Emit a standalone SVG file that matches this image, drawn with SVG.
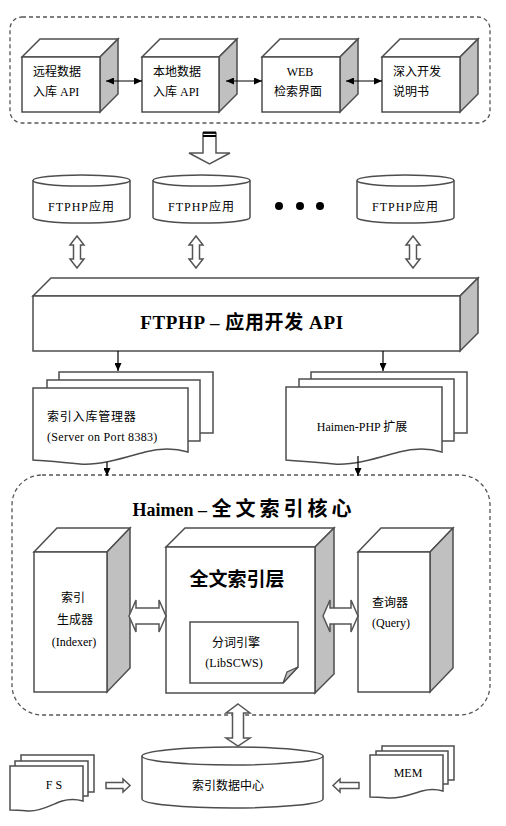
<svg xmlns="http://www.w3.org/2000/svg" width="506" height="826" viewBox="0 0 506 826">
<defs>
<style>
.s{stroke:#4d4d4d;stroke-width:1.5;fill:#fff;stroke-linejoin:miter}
.side{stroke:#4d4d4d;stroke-width:1.5;fill:#c0c0c0}
.dash{stroke:#555;stroke-width:1.3;fill:none;stroke-dasharray:4,3}
.t{font-family:"Liberation Serif","Noto Sans CJK SC",serif;font-size:12px;fill:#000}
.b{font-family:"Liberation Serif","Noto Sans CJK SC",serif;font-weight:bold;fill:#000}
.ln{stroke:#000;stroke-width:1.2;fill:none}
.ho{stroke:#555;stroke-width:1.5;fill:#fff}
</style>
<marker id="ah" markerWidth="8" markerHeight="7" refX="8" refY="3.5" orient="auto-start-reverse" markerUnits="userSpaceOnUse">
<path d="M0,0 L8,3.5 L0,7 z" fill="#000"/>
</marker>
</defs>
<rect width="506" height="826" fill="#fff"/>

<!-- containers -->
<rect class="dash" x="10" y="17" width="480" height="106" rx="12"/>
<rect class="dash" x="12" y="475" width="478" height="240" rx="30"/>

<!-- top row cubes -->
<g id="box-remote">
<polygon class="s" points="22,57 40,39 118,39 100,57"/>
<polygon class="side" points="100,57 118,39 118,94 100,112"/>
<rect class="s" x="22" y="57" width="78" height="55"/>
<text class="t" x="33" y="75.5">远程数据</text>
<text class="t" x="33" y="95.5">入库 API</text>
</g>
<g id="box-local">
<polygon class="s" points="142,57 160,39 237,39 219,57"/>
<polygon class="side" points="219,57 237,39 237,94 219,112"/>
<rect class="s" x="142" y="57" width="77" height="55"/>
<text class="t" x="153" y="75.5">本地数据</text>
<text class="t" x="153" y="95.5">入库 API</text>
</g>
<g id="box-web">
<polygon class="s" points="262,57 280,39 358,39 340,57"/>
<polygon class="side" points="340,57 358,39 358,94 340,112"/>
<rect class="s" x="262" y="57" width="78" height="55"/>
<text class="t" x="300" y="75.5" text-anchor="middle">WEB</text>
<text class="t" x="298" y="95.5" text-anchor="middle">检索界面</text>
</g>
<g id="box-doc">
<polygon class="s" points="382,57 400,39 478,39 460,57"/>
<polygon class="side" points="460,57 478,39 478,94 460,112"/>
<rect class="s" x="382" y="57" width="78" height="55"/>
<text class="t" x="393" y="75.5">深入开发</text>
<text class="t" x="393" y="95.5">说明书</text>
</g>

<!-- cylinders -->
<g id="app1">
<path class="s" d="M33,180.5 V217.5 A48.5,5.5 0 0 0 130,217.5 V180.5"/>
<ellipse class="s" cx="81.5" cy="180.5" rx="48.5" ry="5.5"/>
<text class="t" x="81.5" y="210.5" text-anchor="middle" font-size="13" letter-spacing="1">FTPHP应用</text>
</g>
<g id="app2">
<path class="s" d="M153,180.5 V217.5 A48.5,5.5 0 0 0 250,217.5 V180.5"/>
<ellipse class="s" cx="201.5" cy="180.5" rx="48.5" ry="5.5"/>
<text class="t" x="201.5" y="210.5" text-anchor="middle" font-size="13" letter-spacing="1">FTPHP应用</text>
</g>
<g id="dots">
<circle cx="279" cy="206" r="4" fill="#000"/>
<circle cx="300" cy="206" r="4" fill="#000"/>
<circle cx="320" cy="206" r="4" fill="#000"/>
</g>
<g id="app3">
<path class="s" d="M357,180.5 V217.5 A48.5,5.5 0 0 0 454,217.5 V180.5"/>
<ellipse class="s" cx="405.5" cy="180.5" rx="48.5" ry="5.5"/>
<text class="t" x="405.5" y="210.5" text-anchor="middle" font-size="13" letter-spacing="1">FTPHP应用</text>
</g>

<!-- API bar -->
<g id="api-bar">
<polygon class="s" points="33,296 51,278 478,278 460,296"/>
<polygon class="side" points="460,296 478,278 478,333 460,351"/>
<rect class="s" x="33" y="296" width="427" height="55"/>
<text class="b" x="242" y="329" text-anchor="middle" font-size="19" letter-spacing="0.6">FTPHP –  应用开发 API</text>
</g>

<!-- documents -->
<g id="indexer-manager">
<rect class="s" x="59" y="372" width="154" height="61"/>
<rect class="s" x="47" y="380" width="153" height="61"/>
<path class="s" d="M33,388 H188 V452 C175,448 160,448 145,452 S100,466 80,464 S45,461 33,460 Z"/>
<text class="t" x="47" y="421" font-size="13" letter-spacing="0.8">索引入库管理器</text>
<text class="t" x="47" y="441" font-size="13" letter-spacing="0.3">(Server on Port 8383)</text>
</g>
<g id="haimen-php">
<rect class="s" x="311" y="372" width="156" height="61"/>
<rect class="s" x="299" y="379" width="155" height="62"/>
<path class="s" d="M286,387 H442 V452 C429,448 414,448 399,452 S354,466 334,464 S298,461 286,460 Z"/>
<text class="t" x="362" y="431" text-anchor="middle" font-size="13">Haimen-PHP 扩展</text>
</g>

<!-- core title -->
<text id="core-title" class="b" x="244" y="516" text-anchor="middle" font-size="18">Haimen –  <tspan font-size="20" letter-spacing="4">全文索引核心</tspan></text>

<!-- core boxes -->
<g id="indexer">
<polygon class="s" points="34,552 57,528 130,528 107,552"/>
<polygon class="side" points="107,552 130,528 130,668 107,692"/>
<rect class="s" x="34" y="552" width="73" height="140"/>
<text class="t" x="73" y="602" text-anchor="middle">索引</text>
<text class="t" x="75" y="624" text-anchor="middle">生成器</text>
<text class="t" x="74" y="646" text-anchor="middle" font-size="13">(Indexer)</text>
</g>
<g id="index-layer">
<polygon class="s" points="166,547 185,528 334,528 315,547"/>
<polygon class="side" points="315,547 334,528 334,674 315,693"/>
<rect class="s" x="166" y="547" width="149" height="146"/>
<text class="b" x="237" y="586" text-anchor="middle" font-size="19">全文索引层</text>
<g id="scws">
<path class="s" d="M190,622 H298 V667 L283,683 H190 Z"/>
<polygon points="283,683 287,672 298,667" fill="#c0c0c0" stroke="#4d4d4d" stroke-width="1.2"/>
<text class="t" x="236" y="647" text-anchor="middle">分词引擎</text>
<text class="t" x="234" y="667" text-anchor="middle" font-size="13">(LibSCWS)</text>
</g>
</g>
<g id="query">
<polygon class="s" points="358,552 381,528 453,528 430,552"/>
<polygon class="side" points="430,552 453,528 453,668 430,692"/>
<rect class="s" x="358" y="552" width="72" height="140"/>
<text class="t" x="390" y="607" text-anchor="middle">查询器</text>
<text class="t" x="391" y="627" text-anchor="middle" font-size="13">(Query)</text>
</g>

<!-- index data center -->
<g id="data-center">
<path class="s" d="M142,756 V799 A90.5,9 0 0 0 323,799 V756"/>
<ellipse class="s" cx="232.5" cy="756" rx="90.5" ry="9"/>
<text class="t" x="228" y="790" text-anchor="middle" font-size="14">索引数据中心</text>
</g>
<g id="fs">
<rect class="s" x="21" y="755" width="73" height="37"/>
<rect class="s" x="15" y="761" width="73" height="35"/>
<path class="s" d="M10,766 H83 V801 C76,799 69,799 62,801 S40,812 28,811 S15,810 10,810 Z"/>
<text class="t" x="54" y="789" text-anchor="middle" font-size="13" xml:space="preserve">F S</text>
</g>
<g id="mem">
<rect class="s" x="382" y="746" width="72" height="34"/>
<rect class="s" x="376" y="751" width="72" height="33"/>
<path class="s" d="M370,755 H443 V791 C436,789 429,789 422,791 S400,799 388,798 S375,797 370,797 Z"/>
<text class="t" x="408" y="777" text-anchor="middle" font-size="13">MEM</text>
</g>

<!-- connectors -->
<g id="connectors">
<line class="ln" x1="106" y1="81" x2="142" y2="81" marker-start="url(#ah)" marker-end="url(#ah)"/>
<line class="ln" x1="226" y1="81" x2="262" y2="81" marker-start="url(#ah)" marker-end="url(#ah)"/>
<line class="ln" x1="346" y1="81" x2="382" y2="81" marker-start="url(#ah)" marker-end="url(#ah)"/>
<!-- block arrow down -->
<path class="ho" d="M203,133 H216 V153 H230 L209.5,164 L189,153 H203 Z"/>
<rect x="203" y="131.5" width="13" height="2.2" fill="#000"/>
<rect x="203" y="135" width="13" height="2" fill="#000"/>
<!-- vertical double hollow arrows -->
<path class="ho" d="M77,236 L84,245 H80.5 V259 H84 L77,268 L70,259 H73.5 V245 H70 Z"/>
<path class="ho" d="M196,236 L203,245 H199.5 V259 H203 L196,268 L189,259 H192.5 V245 H189 Z"/>
<path class="ho" d="M413,236 L420,245 H416.5 V259 H420 L413,268 L406,259 H409.5 V245 H406 Z"/>
<!-- bar to docs -->
<line class="ln" x1="118" y1="351" x2="118" y2="371" marker-end="url(#ah)"/>
<line class="ln" x1="383" y1="351" x2="383" y2="371" marker-end="url(#ah)"/>
<!-- docs to core -->
<line class="ln" x1="107" y1="462" x2="107" y2="476" marker-end="url(#ah)"/>
<line class="ln" x1="358" y1="456" x2="358" y2="476" marker-end="url(#ah)"/>
<!-- core horizontal double arrows -->
<path class="ho" d="M129,616 L136,600 V608 H159 V600 L166,616 L159,632 V624 H136 V632 Z"/>
<path class="ho" d="M323,616 L330,600 V608 H351 V600 L358,616 L351,632 V624 H330 V632 Z"/>
<!-- core to data center -->
<path class="ho" d="M238,704 L250,713 H243.5 V738 H250 L238,746 L226,738 H232.5 V713 H226 Z"/>
<!-- FS and MEM arrows -->
<path class="ho" d="M106,782.5 H123 V779 L130,785.5 L123,792 V788.5 H106 Z"/>
<path class="ho" d="M359,782.5 H340 V779 L333,785.5 L340,792 V788.5 H359 Z"/>
</g>
</svg>
